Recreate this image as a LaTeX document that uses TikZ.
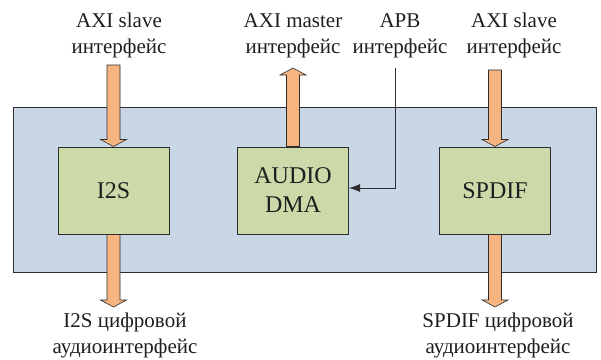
\documentclass[tikz,border=0pt]{standalone}
\usepackage{fontspec}
\setmainfont{Liberation Serif}
\newfontfamily\timesfont{Liberation Serif}
\usetikzlibrary{calc,arrows.meta}
\definecolor{socfill}{RGB}{201,214,230}
\definecolor{blkfill}{RGB}{204,218,170}
\definecolor{arrfill}{RGB}{246,181,128}
\definecolor{edge}{RGB}{45,45,45}
\definecolor{txt}{RGB}{30,30,30}
\newcommand\blockarrow[2]{%
  \path[barrow] let \p1=(#1), \p2=(#2), \n1={ifthenelse(\y2<\y1,1,-1)} in
    (\x2-6.5pt,\y1) -- (\x2-6.5pt,\y2+\n1*7pt) -- (\x2-13pt,\y2+\n1*7pt) -- (\x2,\y2)
    -- (\x2+13pt,\y2+\n1*7pt) -- (\x2+6.5pt,\y2+\n1*7pt) -- (\x2+6.5pt,\y1) -- cycle;}
\begin{document}
\begin{tikzpicture}[x=1pt,y=-1pt,
  socbox/.style={draw=edge,fill=socfill,line width=1pt,minimum width=583pt,minimum height=165pt,inner sep=0pt},
  blk/.style={draw=edge,fill=blkfill,line width=1pt,minimum width=111pt,minimum height=87pt,inner sep=0pt,align=center,text=txt,font=\timesfont\fontsize{24}{30}\selectfont},
  barrow/.style={draw=edge,fill=arrfill,line width=0.6pt,line join=miter},
  lbl/.style={align=center,inner sep=0pt,text=txt,font=\timesfont\fontsize{21}{26}\selectfont},
  apb/.style={draw=edge,line width=0.8pt,-{Latex[length=11pt,width=8pt]}}]
\useasboundingbox (0,0) rectangle (601,359);
\node[socbox] (soc) at (304.5,189.5) {};
\node[blk] (i2s) at (113.5,190.5) {I2S};
\node[blk] (dma) at (293,190.5) {AUDIO\\[-1pt]DMA};
\node[blk] (spdif) at (495,190.5) {SPDIF};
% labels (base anchor = baseline of last line)
\node[lbl,anchor=base] (l1) at (119,53) {AXI slave\\интерфейс};
\node[lbl,anchor=base] (l2) at (293,53) {AXI master\\интерфейс};
\node[lbl,anchor=base] (l3) at (400,53) {APB\\интерфейс};
\node[lbl,anchor=base] (l4) at (514,53) {AXI slave\\интерфейс};
\node[lbl,anchor=base] (l5) at (125,353) {I2S цифровой\\аудиоинтерфейс};
\node[lbl,anchor=base] (l6) at (498,353) {SPDIF цифровой\\аудиоинтерфейс};
% connector end points
\coordinate (i2sin) at (113.5,65);
\coordinate (i2sout) at (113.5,307);
\coordinate (dmaout) at (293,68);
\coordinate (spdifin) at (495,70);
\coordinate (spdifout) at (495,307);
\coordinate (apbtop) at (395,68);
\blockarrow{i2sin}{i2s.north}
\blockarrow{i2s.south}{i2sout}
\blockarrow{dma.north}{dmaout}
\blockarrow{spdifin}{spdif.north}
\blockarrow{spdif.south}{spdifout}
\draw[apb] (apbtop) |- ([yshift=2.5pt]dma.east);
\end{tikzpicture}
\end{document}
